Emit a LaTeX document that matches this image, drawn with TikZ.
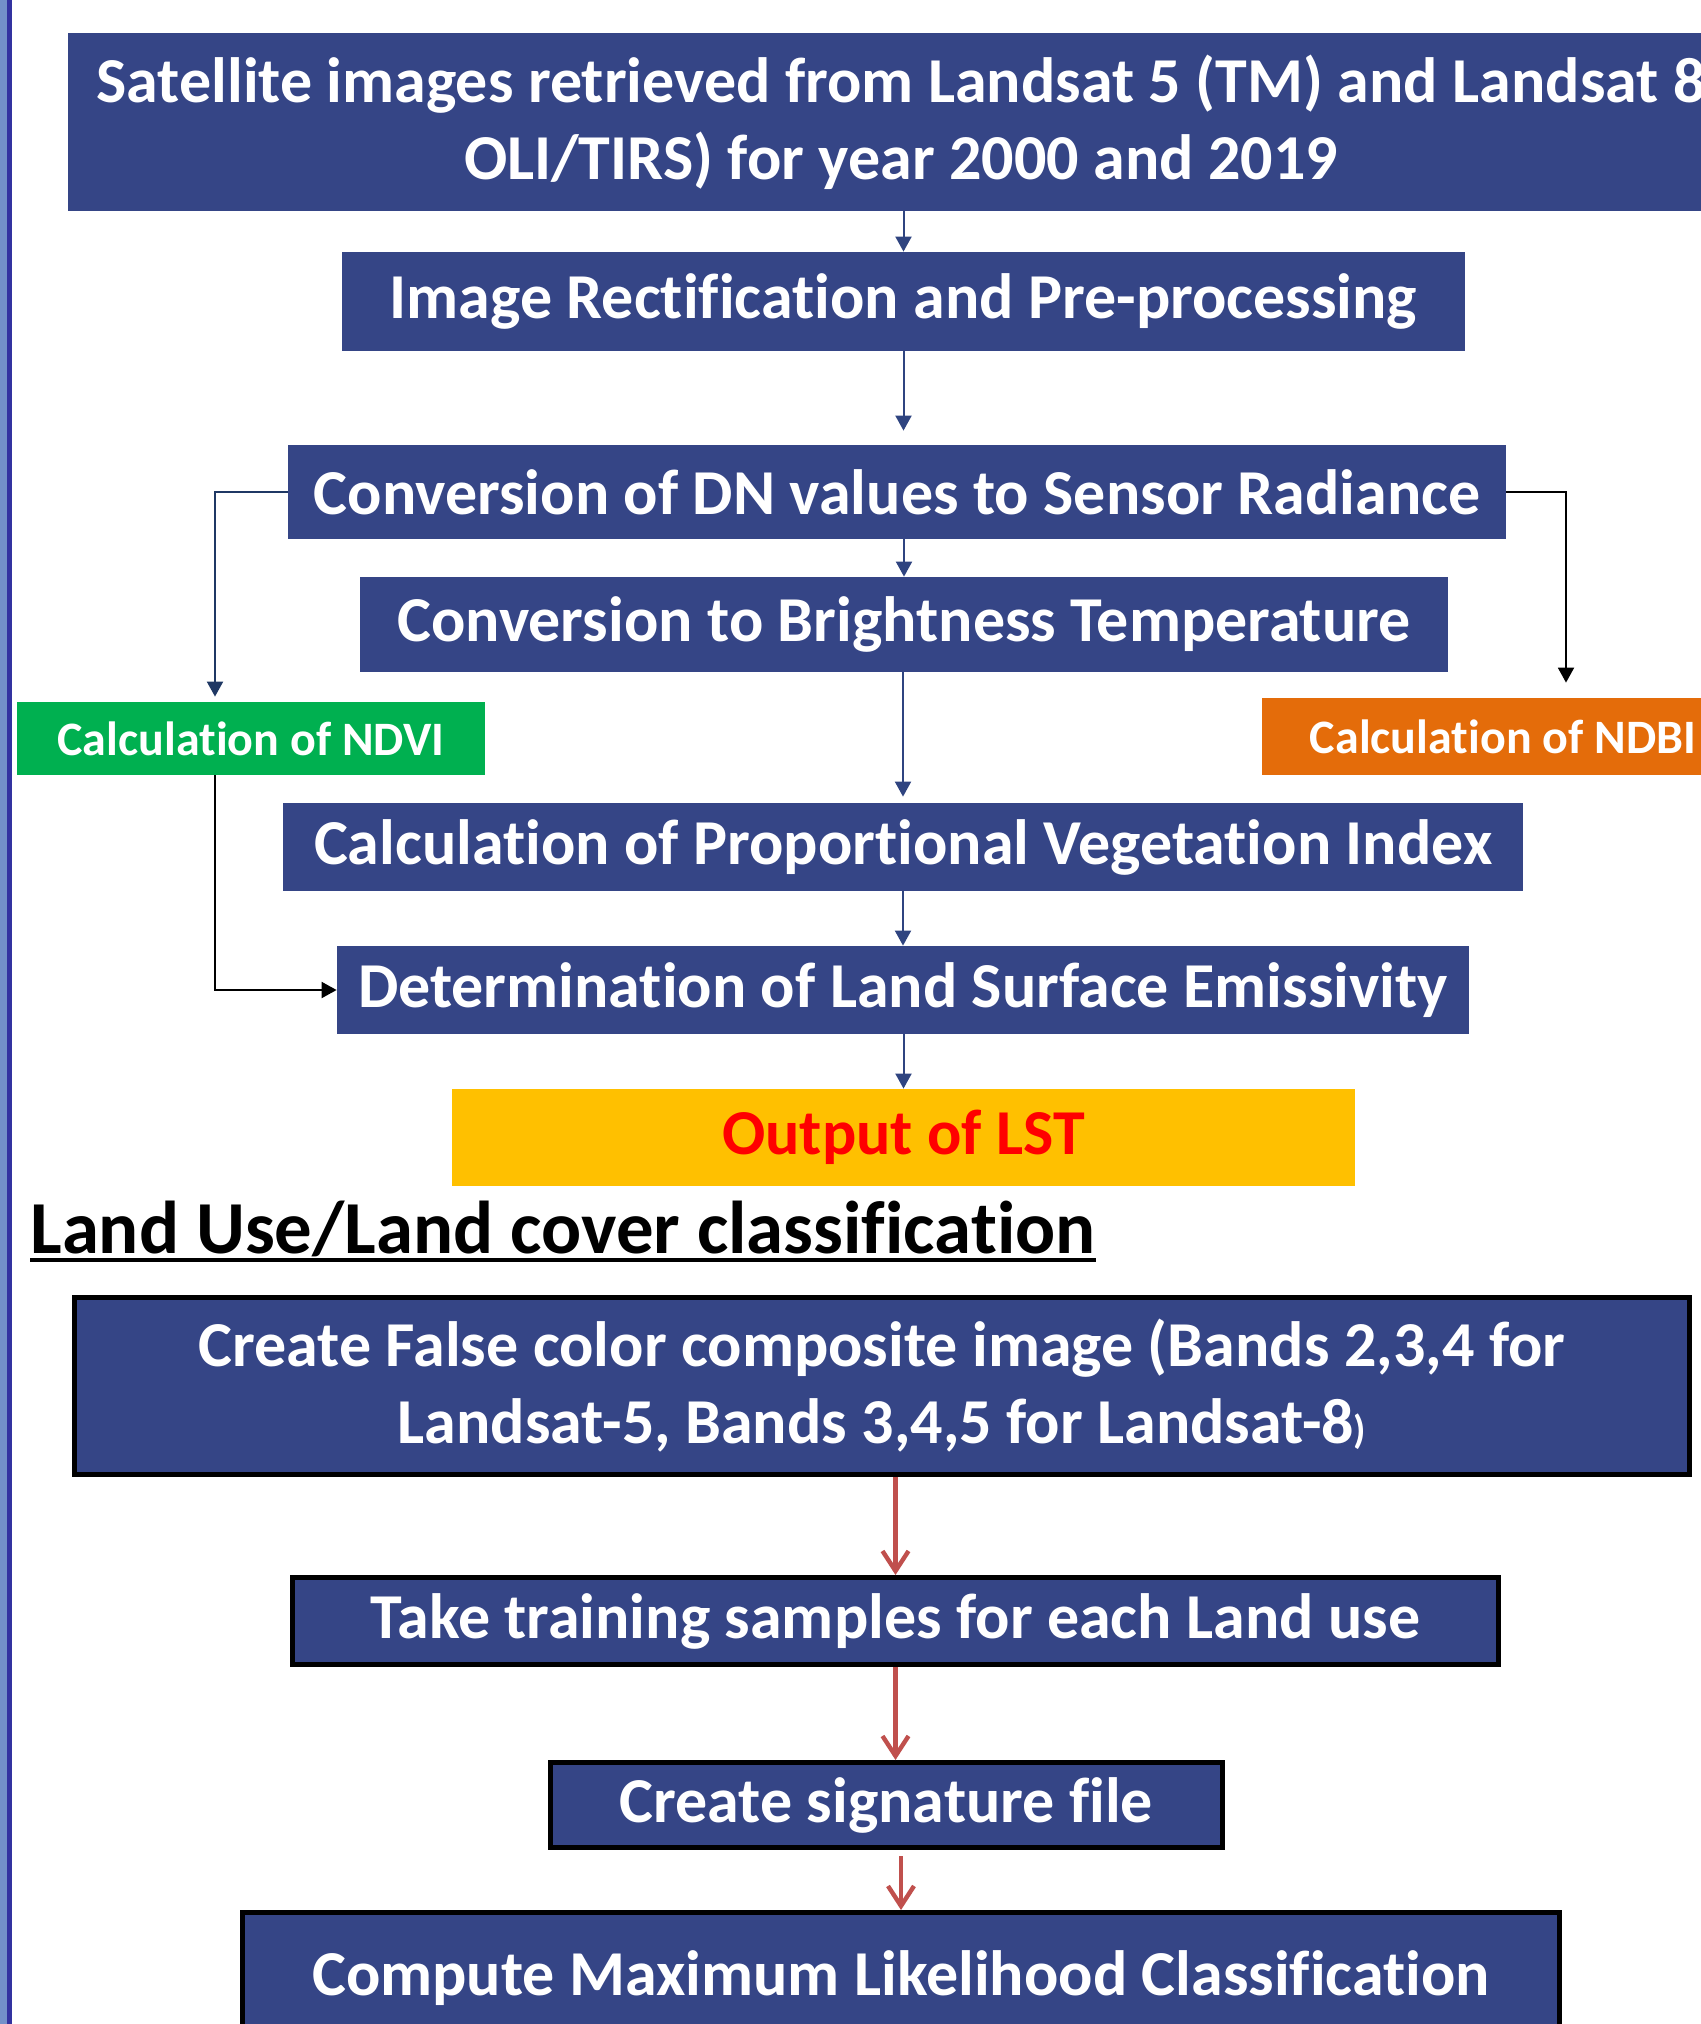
\documentclass[tikz,border=0pt]{standalone}
\usepackage{fontspec}
\setmainfont{Carlito}[Ligatures=NoCommon]
\usetikzlibrary{arrows.meta}
\usepackage{xcolor}
\definecolor{boxblue}{RGB}{53,69,134}
\definecolor{linkblue}{RGB}{47,68,128}
\definecolor{sideblue}{RGB}{31,56,100}
\definecolor{ndvigreen}{RGB}{0,176,80}
\definecolor{ndbiorange}{RGB}{228,108,10}
\definecolor{lstyellow}{RGB}{255,192,0}
\definecolor{flowred}{RGB}{192,80,77}
\definecolor{edgelight}{RGB}{115,145,201}
\definecolor{edgedark}{RGB}{51,51,160}
\newcommand{\procbox}[7] {
    \node[#4,minimum width={(#5)*0.5pt},minimum height={(#6)*0.5pt}] (#1) at ({#2}, {#3}) {#7};
}
\tikzset{
    topbox/.style={
        rectangle,
        fill=boxblue,
        text=white,
        font=\bfseries\fontsize{32}{38.5}\selectfont,
        inner sep=0pt,
        align=center
    },
    lowbox/.style={topbox,draw=black,line width=2.5pt},
    idxbox/.style={
        rectangle,
        text=white,
        font=\bfseries\fontsize{24}{28}\selectfont,
        inner sep=0pt
    },
    bluelink/.style={draw=linkblue,line width=1pt,-{Triangle[length=7.5pt,width=8pt]}},
    sidelink/.style={bluelink,draw=sideblue},
    blacklink/.style={bluelink,draw=black},
    redlink/.style={draw=flowred,line width=2.2pt,-{Straight Barb[length=10pt,width=13pt,line width=2.2pt]}}
}

\begin{document}
\begin{tikzpicture}[x=0.5pt,y=-0.5pt]
    \useasboundingbox (0,0) rectangle (1701,2024);
    \clip (0,0) rectangle (1701,2024);
    \fill[edgelight] (0,0) rectangle (7,2024);
    \fill[edgedark] (7,0) rectangle (12,2024);
    \procbox{sat}{901}{122}{topbox}{1666}{178}{Satellite images retrieved from Landsat 5 (TM) and Landsat 8\\OLI/TIRS) for year 2000 and 2019}
    \procbox{rect}{903.5}{301.5}{topbox}{1123}{99}{Image Rectification and Pre-processing}
    \procbox{dn}{897}{492}{topbox}{1218}{94}{Conversion of DN values to Sensor Radiance}
    \procbox{bt}{904}{624.5}{topbox}{1088}{95}{Conversion to Brightness Temperature}
    \procbox{pvi}{903}{847}{topbox}{1240}{88}{Calculation of Proportional Vegetation Index}
    \procbox{lse}{903}{990}{topbox}{1132}{88}{Determination of Land Surface Emissivity}
    \procbox{lst}{903.5}{1137.5}{topbox,fill=lstyellow,text=red}{903}{97}{Output of LST}
    \procbox{ndvi}{251}{738.5}{idxbox,fill=ndvigreen}{468}{73}{Calculation of NDVI}
    \procbox{ndbi}{1503}{736.5}{idxbox,fill=ndbiorange}{482}{77}{Calculation of NDBI}
    \draw[bluelink] (sat.south -| rect.north) -- (rect.north);
    \draw[bluelink,shorten >=7pt] (rect.south) -- (rect.south |- dn.north);
    \draw[bluelink] (dn.south -| bt.north) -- (bt.north);
    \draw[bluelink,shorten >=3pt] (bt.south -| pvi.north) -- (pvi.north);
    \draw[bluelink] (pvi.south) -- (pvi.south |- lse.north);
    \draw[bluelink] (lse.south -| lst.north) -- (lst.north);
    \draw[sidelink,shorten >=2.5pt] (dn.west) -| ([xshift=-18pt]ndvi.north);
    \draw[blacklink,shorten >=7.5pt] (dn.east) -| ([xshift=31.5pt]ndbi.north);
    \draw[blacklink] ([xshift=-18pt]ndvi.south) |- (lse.west);
    \node[anchor=base west,inner sep=0pt,font=\bfseries\fontsize{37.4}{44}\selectfont] (lulc) at (30,1253) {Land Use/Land cover classification};
    \draw[line width=2pt] ([yshift=-3.5pt]lulc.base west) -- ([yshift=-3.5pt]lulc.base east);
    \procbox{fcc}{882}{1386}{lowbox}{1615}{177}{Create False color composite image (Bands 2,3,4 for\\Landsat-5, Bands 3,4,5 for Landsat-8{\fontsize{20}{20}\selectfont)}}
    \procbox{train}{895.5}{1621}{lowbox}{1206}{87}{Take training samples for each Land use}
    \procbox{sig}{886.5}{1805}{lowbox}{672}{85}{Create signature file}
    \procbox{mlc}{901}{1978}{lowbox}{1317}{131}{Compute Maximum Likelihood Classification}
    \draw[redlink] (fcc.south -| train.north) -- (train.north);
    \draw[redlink] (train.south) -- (train.south |- sig.north);
    \draw[redlink,shorten <=3pt] (sig.south -| mlc.north) -- (mlc.north);
\end{tikzpicture}
\end{document}
